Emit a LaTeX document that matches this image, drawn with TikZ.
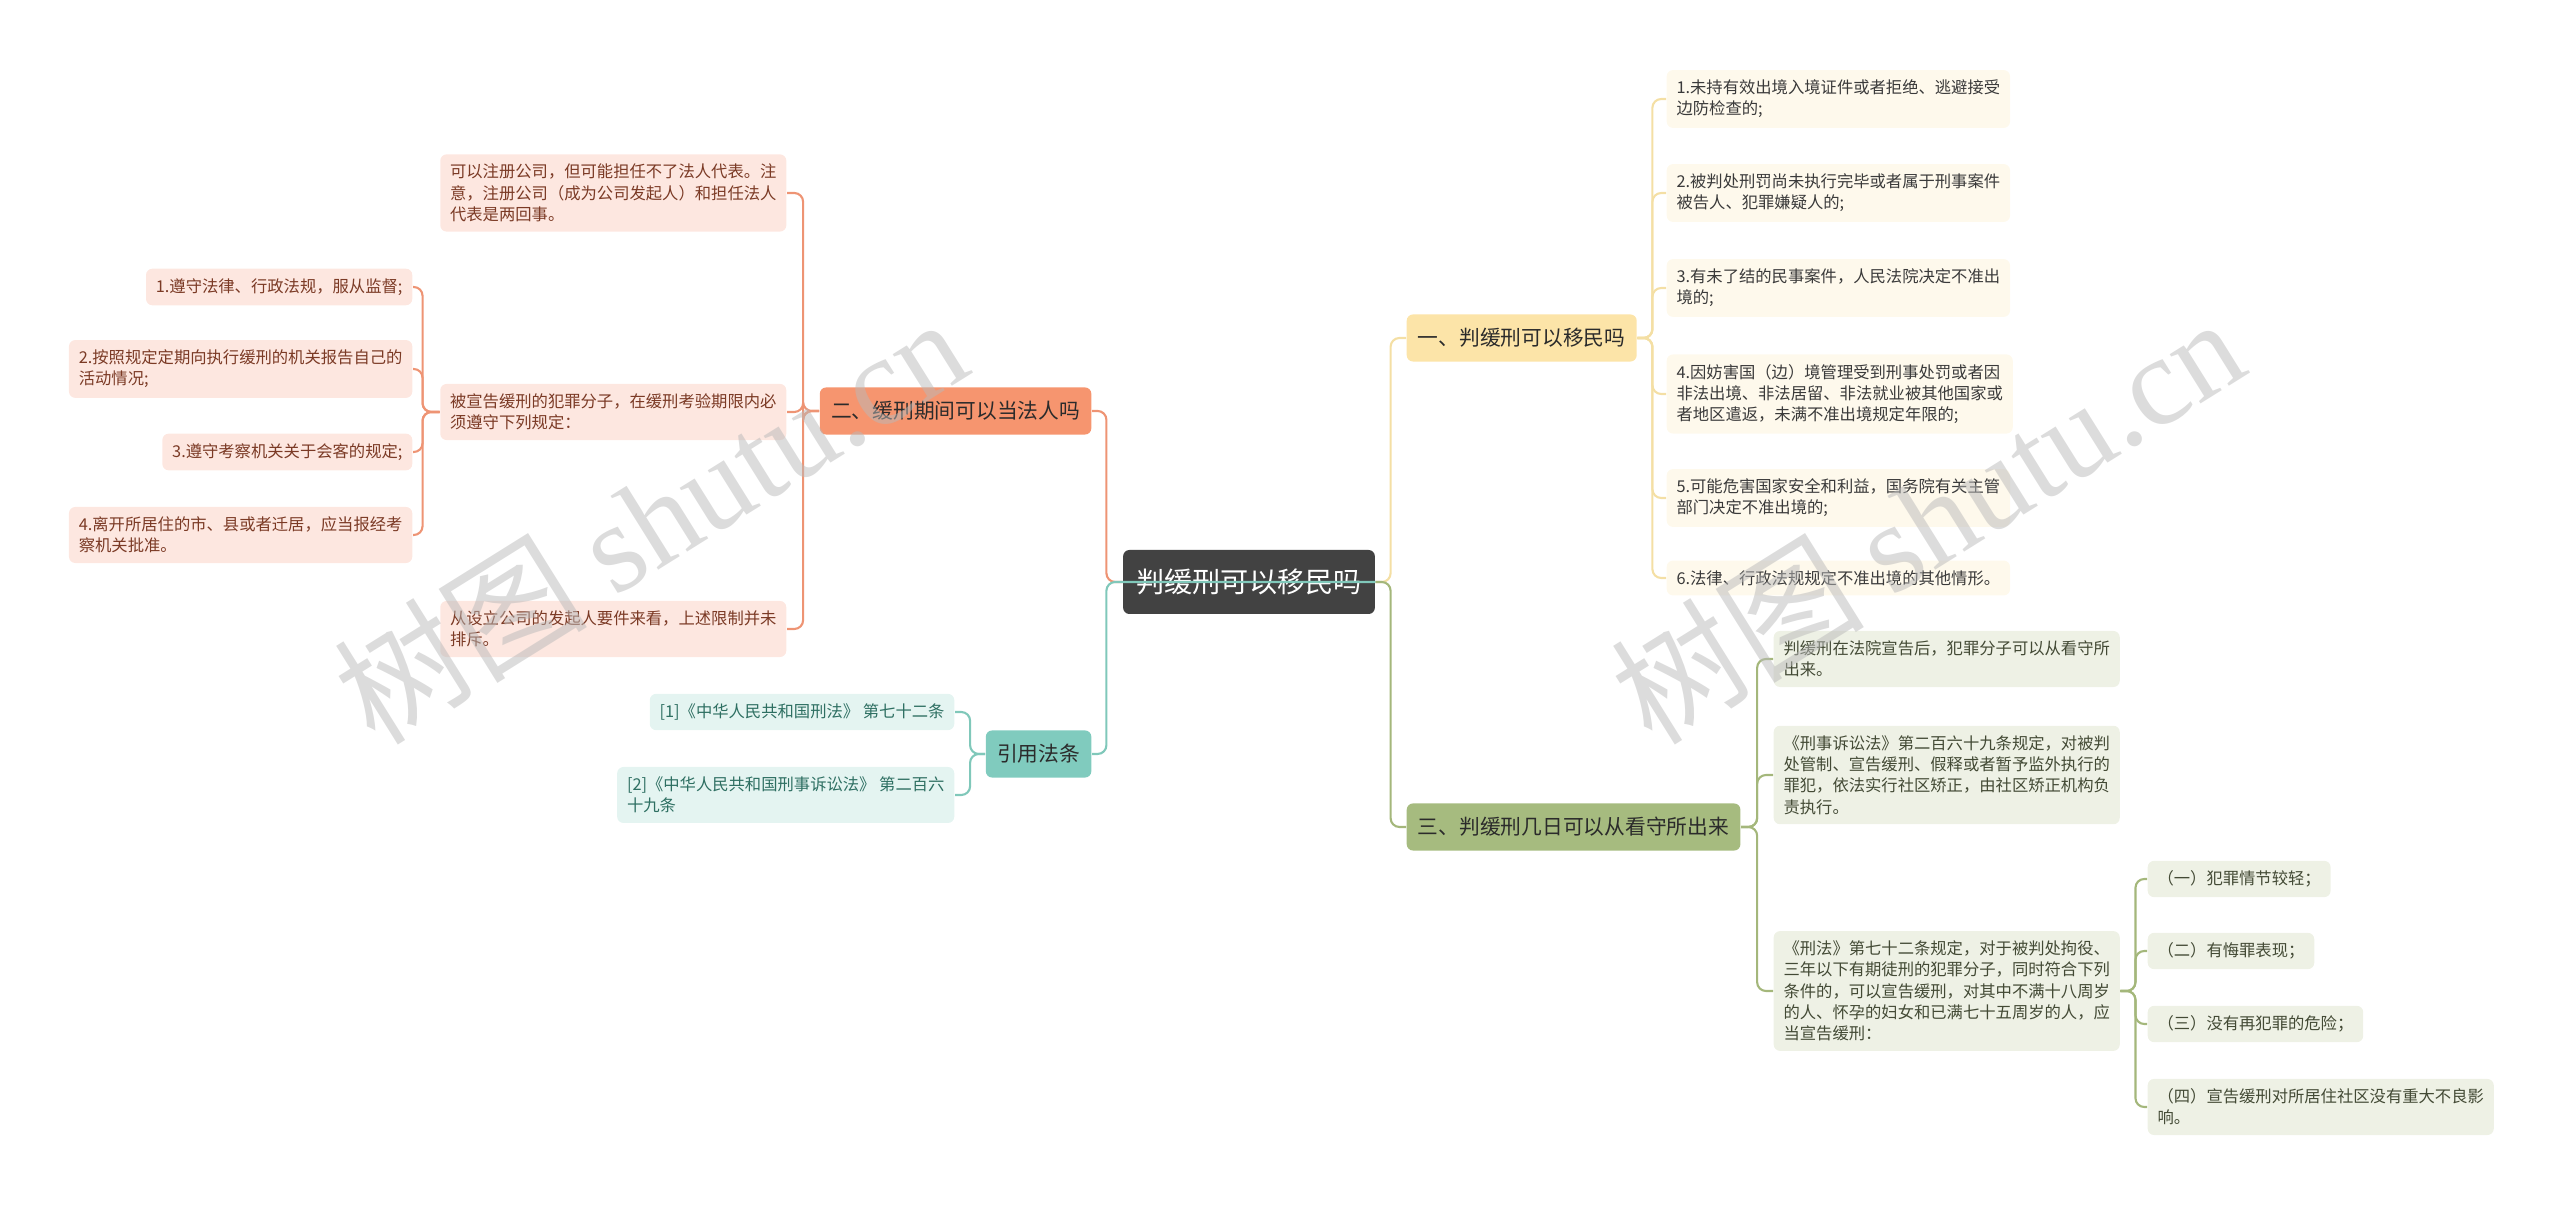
\documentclass[tikz,border=0pt]{standalone}
\usepackage{fontspec}
\setmainfont{Noto Sans CJK SC}
\newfontfamily\wmfont{Liberation Serif}
\definecolor{cRoot}{HTML}{424242}
\definecolor{cText}{HTML}{2B2B2B}
\definecolor{cOr}{HTML}{F6956F}
\definecolor{cOrLine}{HTML}{EE9474}
\definecolor{cOrLeaf}{HTML}{FDE7E0}
\definecolor{cOrText}{HTML}{7B3A25}
\definecolor{cYe}{HTML}{FCE4A8}
\definecolor{cYeLine}{HTML}{F4DFA4}
\definecolor{cYeLeaf}{HTML}{FEF9EC}
\definecolor{cYeText}{HTML}{3A3A3A}
\definecolor{cGr}{HTML}{A6BB7F}
\definecolor{cGrLine}{HTML}{A4B77B}
\definecolor{cGrLeaf}{HTML}{EEF1E5}
\definecolor{cGrText}{HTML}{434A35}
\definecolor{cTe}{HTML}{80CBBE}
\definecolor{cTeLine}{HTML}{80C8BA}
\definecolor{cTeLeaf}{HTML}{E4F4F1}
\definecolor{cTeText}{HTML}{2E6F62}
\begin{document}
\begin{tikzpicture}[x=0.01cm, y=-0.01cm, font=\fontsize{4.64}{6.03}\selectfont,
  rootbox/.style={fill=cRoot, text=white, rounded corners=1.8pt, font=\fontsize{8}{10}\selectfont, inner xsep=3.8pt, minimum height=18.2pt},
  mainbox/.style={text=cText, rounded corners=1.8pt, font=\fontsize{5.9}{7}\selectfont, inner xsep=3.2pt, minimum height=13.4pt},
  leafbox/.style={rounded corners=1.8pt, inner xsep=2.8pt, inner ysep=2.8pt, align=left},
  orleaf/.style={leafbox, fill=cOrLeaf, text=cOrText, anchor=east},
  yeleaf/.style={leafbox, fill=cYeLeaf, text=cYeText, anchor=west},
  grleaf/.style={leafbox, fill=cGrLeaf, text=cGrText, anchor=west},
  teleaf/.style={leafbox, fill=cTeLeaf, text=cTeText, anchor=east},
  link/.style={line width=0.6pt, rounded corners=2.5pt},
  wmark/.style={text=gray!55, opacity=0.5, rotate=32, font=\fontsize{36}{42}\selectfont}]
\useasboundingbox (0,0) rectangle (2560,1207);
\node[rootbox] (root) at (1249,582) {判缓刑可以移民吗};
\node[mainbox, fill=cYe, anchor=west] (yi) at (1406,338) {一、判缓刑可以移民吗};
\node[mainbox, fill=cOr, anchor=east] (er) at (1092,411) {二、缓刑期间可以当法人吗};
\node[mainbox, fill=cGr, anchor=west] (san) at (1406,827) {三、判缓刑几日可以从看守所出来};
\node[mainbox, fill=cTe, anchor=east] (yin) at (1092,754) {引用法条};
\node[yeleaf] (ye1) at (1666,99) {1.未持有效出境入境证件或者拒绝、逃避接受\\边防检查的;};
\node[yeleaf] (ye2) at (1666,193) {2.被判处刑罚尚未执行完毕或者属于刑事案件\\被告人、犯罪嫌疑人的;};
\node[yeleaf] (ye3) at (1666,288) {3.有未了结的民事案件，人民法院决定不准出\\境的;};
\node[yeleaf] (ye4) at (1666,394) {4.因妨害国（边）境管理受到刑事处罚或者因\\非法出境、非法居留、非法就业被其他国家或\\者地区遣返，未满不准出境规定年限的;};
\node[yeleaf] (ye5) at (1666,498) {5.可能危害国家安全和利益，国务院有关主管\\部门决定不准出境的;};
\node[yeleaf] (ye6) at (1666,578) {6.法律、行政法规规定不准出境的其他情形。};
\node[orleaf] (or1) at (787,193) {可以注册公司，但可能担任不了法人代表。注\\意，注册公司（成为公司发起人）和担任法人\\代表是两回事。};
\node[orleaf] (or2) at (787,412) {被宣告缓刑的犯罪分子，在缓刑考验期限内必\\须遵守下列规定：};
\node[orleaf] (or3) at (787,629) {从设立公司的发起人要件来看，上述限制并未\\排斥。};
\node[orleaf] (or21) at (413,287) {1.遵守法律、行政法规，服从监督;};
\node[orleaf] (or22) at (413,369) {2.按照规定定期向执行缓刑的机关报告自己的\\活动情况;};
\node[orleaf] (or23) at (413,452) {3.遵守考察机关关于会客的规定;};
\node[orleaf] (or24) at (413,535) {4.离开所居住的市、县或者迁居，应当报经考\\察机关批准。};
\node[grleaf] (gr1) at (1773,659) {判缓刑在法院宣告后，犯罪分子可以从看守所\\出来。};
\node[grleaf] (gr2) at (1773,775) {《刑事诉讼法》第二百六十九条规定，对被判\\处管制、宣告缓刑、假释或者暂予监外执行的\\罪犯，依法实行社区矫正，由社区矫正机构负\\责执行。};
\node[grleaf] (gr3) at (1773,991) {《刑法》第七十二条规定，对于被判处拘役、\\三年以下有期徒刑的犯罪分子，同时符合下列\\条件的，可以宣告缓刑，对其中不满十八周岁\\的人、怀孕的妇女和已满七十五周岁的人，应\\当宣告缓刑：};
\node[grleaf] (gr31) at (2147,879) {（一）犯罪情节较轻；};
\node[grleaf] (gr32) at (2147,951) {（二）有悔罪表现；};
\node[grleaf] (gr33) at (2147,1024) {（三）没有再犯罪的危险；};
\node[grleaf] (gr34) at (2147,1107) {（四）宣告缓刑对所居住社区没有重大不良影\\响。};
\node[teleaf] (te1) at (955,712) {[1]《中华人民共和国刑法》 第七十二条};
\node[teleaf] (te2) at (955,795) {[2]《中华人民共和国刑事诉讼法》 第二百六\\十九条};
\draw[link, cOrLine] (root.west) -- ++(-16,0) |- (er.east);
\foreach \n in {or1,or2,or3} \draw[link, cOrLine] (er.west) -- ++(-16,0) |- (\n.east);
\foreach \n in {or21,or22,or23,or24} \draw[link, cOrLine] (or2.west) -- ++(-17,0) |- (\n.east);
\draw[link, cYeLine] (root.east) -- ++(15,0) |- (yi.west);
\foreach \n in {ye1,ye2,ye3,ye4,ye5,ye6} \draw[link, cYeLine] (yi.east) -- ++(15,0) |- (\n.west);
\draw[link, cTeLine] (root.east) -- (root.west) -- ++(-16,0) |- (yin.east);
\foreach \n in {te1,te2} \draw[link, cTeLine] (yin.west) -- ++(-15,0) |- (\n.east);
\draw[link, cGrLine] (root.east) -- ++(15,0) |- (san.west);
\foreach \n in {gr1,gr2,gr3} \draw[link, cGrLine] (san.east) -- ++(16,0) |- (\n.west);
\foreach \n in {gr31,gr32,gr33,gr34} \draw[link, cGrLine] (gr3.east) -- ++(15,0) |- (\n.west);
\node[wmark] (wm1) at (650,519) {树图 {\wmfont shutu.cn}};
\node[wmark] (wm2) at (1927,519) {树图 {\wmfont shutu.cn}};
\end{tikzpicture}
\end{document}
